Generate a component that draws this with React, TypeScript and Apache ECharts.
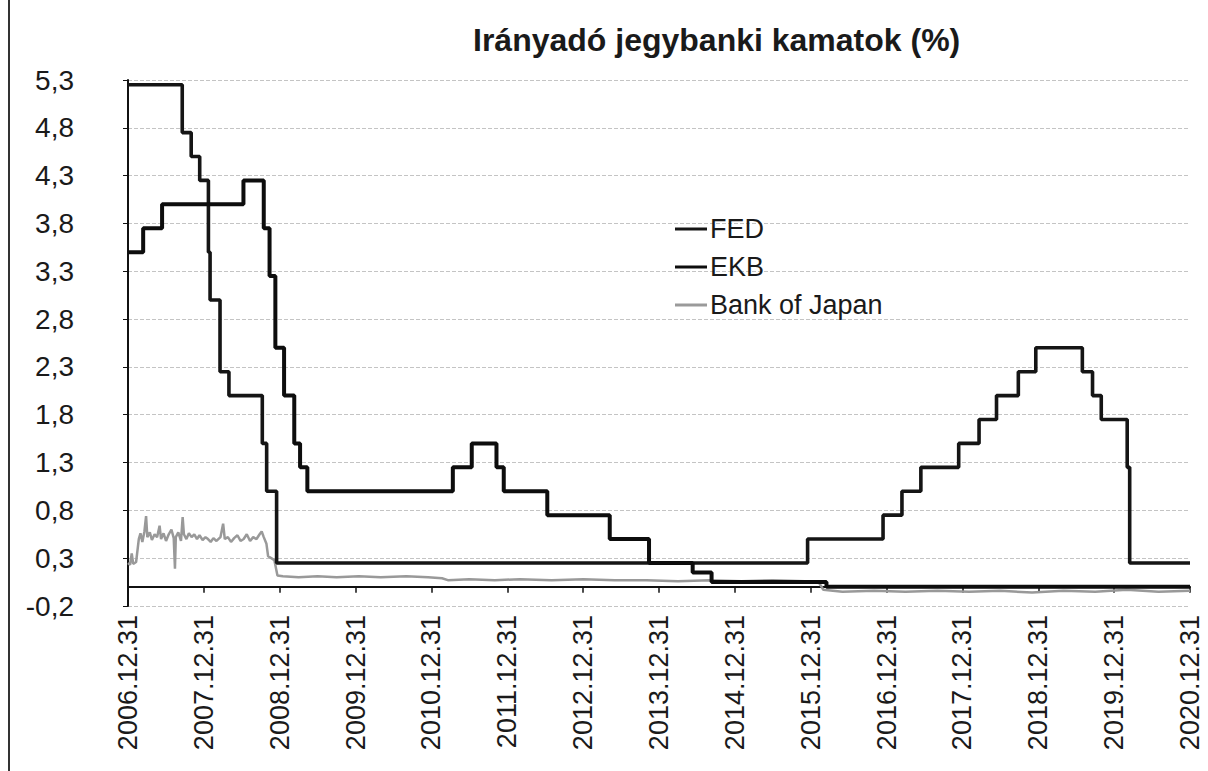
import React, { useEffect, useRef } from "react";
import * as echarts from "echarts";

const titleText = "Irányadó jegybanki kamatok (%)";

const xTickLabels = [
  "2006.12.31", "2007.12.31", "2008.12.31", "2009.12.31", "2010.12.31",
  "2011.12.31", "2012.12.31", "2013.12.31", "2014.12.31", "2015.12.31",
  "2016.12.31", "2017.12.31", "2018.12.31", "2019.12.31", "2020.12.31",
];
const yTickLabels = ["-0,2", "0,3", "0,8", "1,3", "1,8", "2,3", "2,8", "3,3", "3,8", "4,3", "4,8", "5,3"];

const fedDates = [
  "2006-12-31", "2007-09-18", "2007-10-31", "2007-12-11", "2008-01-22", "2008-01-30",
  "2008-03-18", "2008-04-30", "2008-10-08", "2008-10-29", "2008-12-16", "2015-12-16",
  "2016-12-14", "2017-03-15", "2017-06-14", "2017-12-13", "2018-03-21", "2018-06-13",
  "2018-09-26", "2018-12-19", "2019-07-31", "2019-09-18", "2019-10-30", "2020-03-03",
  "2020-03-15", "2020-12-31",
];
const fedValues = [
  5.25, 4.75, 4.5, 4.25, 3.5, 3.0,
  2.25, 2.0, 1.5, 1.0, 0.25, 0.5,
  0.75, 1.0, 1.25, 1.5, 1.75, 2.0,
  2.25, 2.5, 2.25, 2.0, 1.75, 1.25,
  0.25, 0.25,
];

const ekbDates = [
  "2006-12-31", "2007-03-14", "2007-06-13", "2008-07-09", "2008-10-15", "2008-11-12",
  "2008-12-10", "2009-01-21", "2009-03-11", "2009-04-08", "2009-05-13", "2011-04-13",
  "2011-07-13", "2011-11-09", "2011-12-14", "2012-07-11", "2013-05-08", "2013-11-13",
  "2014-06-11", "2014-09-10", "2016-03-16", "2020-12-31",
];
const ekbValues = [
  3.5, 3.75, 4.0, 4.25, 3.75, 3.25,
  2.5, 2.0, 1.5, 1.25, 1.0, 1.25,
  1.5, 1.25, 1.0, 0.75, 0.5, 0.25,
  0.15, 0.05, 0.0, 0.0,
];

const bojDates = [
  "2006-12-31", "2007-01-10", "2007-01-18", "2007-01-25", "2007-02-08", "2007-02-21",
  "2007-03-01", "2007-03-10", "2007-03-20", "2007-03-28", "2007-04-03", "2007-04-15",
  "2007-04-25", "2007-05-08", "2007-05-20", "2007-06-01", "2007-06-08", "2007-06-20",
  "2007-07-02", "2007-07-15", "2007-07-28", "2007-08-08", "2007-08-14", "2007-08-18",
  "2007-08-30", "2007-09-12", "2007-09-20", "2007-09-26", "2007-10-08", "2007-10-20",
  "2007-11-02", "2007-11-15", "2007-11-28", "2007-12-10", "2007-12-25", "2008-01-08",
  "2008-01-20", "2008-02-02", "2008-02-15", "2008-03-01", "2008-03-20", "2008-04-02",
  "2008-04-10", "2008-04-25", "2008-05-10", "2008-05-25", "2008-06-10", "2008-06-25",
  "2008-07-10", "2008-07-25", "2008-08-10", "2008-08-25", "2008-09-10", "2008-09-25",
  "2008-10-05", "2008-10-15", "2008-10-28", "2008-11-05", "2008-11-20", "2008-12-05",
  "2008-12-20", "2009-01-15", "2009-04-01", "2009-07-01", "2009-10-01", "2010-01-15",
  "2010-05-01", "2010-09-01", "2010-12-15", "2011-02-20", "2011-03-20", "2011-07-01",
  "2011-11-01", "2012-03-01", "2012-08-01", "2013-01-01", "2013-06-01", "2013-11-01",
  "2014-04-01", "2014-09-01", "2015-02-01", "2015-07-01", "2015-12-01", "2016-02-10",
  "2016-03-01", "2016-06-01", "2016-11-01", "2017-04-01", "2017-09-01", "2018-02-01",
  "2018-07-01", "2018-12-01", "2019-05-01", "2019-10-01", "2020-03-01", "2020-08-01",
  "2020-12-31",
];
const bojValues = [
  0.25, 0.23, 0.35, 0.24, 0.26, 0.5,
  0.56, 0.47, 0.58, 0.74, 0.52, 0.57,
  0.49, 0.55, 0.52, 0.64, 0.5, 0.56,
  0.48, 0.55, 0.6, 0.51, 0.19, 0.52,
  0.57, 0.48, 0.73, 0.55, 0.5, 0.56,
  0.52, 0.55, 0.5, 0.54, 0.49, 0.52,
  0.5, 0.47, 0.51, 0.48, 0.52, 0.66,
  0.5, 0.52, 0.47, 0.51, 0.54, 0.48,
  0.5, 0.55, 0.48, 0.52, 0.5, 0.55,
  0.58, 0.52, 0.45, 0.32, 0.3, 0.28,
  0.12, 0.11, 0.1, 0.11, 0.1, 0.11,
  0.1, 0.11, 0.1, 0.09, 0.07, 0.08,
  0.07, 0.08, 0.07, 0.08, 0.07, 0.07,
  0.06, 0.07, 0.06, 0.07, 0.06, 0.04,
  -0.03, -0.05, -0.04, -0.05, -0.04, -0.05,
  -0.04, -0.06, -0.04, -0.05, -0.03, -0.05,
  -0.04,
];

// date string -> fractional year; end of the given day (so "2006-12-31" -> 2007.0)
function toX(d: string): number {
  const [y, m, day] = d.split("-").map(Number);
  const t = Date.UTC(y, m - 1, day) + 86400000;
  const yy = new Date(t).getUTCFullYear();
  const s = Date.UTC(yy, 0, 1);
  const e = Date.UTC(yy + 1, 0, 1);
  return yy + (t - s) / (e - s);
}

const FONT = "'Liberation Sans', Arial, Helvetica, sans-serif";

export default function App() {
  const ref = useRef<HTMLDivElement>(null);
  useEffect(() => {
    document.body.style.margin = "0";
    if (!ref.current) return;
    const chart = echarts.init(ref.current, null, { renderer: "svg" });
    const fed = fedDates.map((d, i) => [toX(d), fedValues[i]]);
    const ekb = ekbDates.map((d, i) => [toX(d), ekbValues[i]]);
    const boj = bojDates.map((d, i) => [toX(d), bojValues[i]]);
    chart.setOption({
      animation: false,
      backgroundColor: "#ffffff",
      title: {
        text: titleText,
        left: 468,
        top: 19,
        textStyle: { fontFamily: FONT, fontSize: 32, fontWeight: "bold", color: "#1a1a1a" },
      },
      legend: {
        orient: "vertical",
        left: 670,
        top: 210,
        itemWidth: 32,
        itemHeight: 3,
        itemGap: 10,
        textStyle: { fontFamily: FONT, fontSize: 27, color: "#1a1a1a", lineHeight: 28, padding: [0, 0, 0, -2] },
        data: [
          { name: "FED", icon: "rect", itemStyle: { color: "#151515" } },
          { name: "EKB", icon: "rect", itemStyle: { color: "#0d0d0d" } },
          { name: "Bank of Japan", icon: "rect", itemStyle: { color: "#9a9a9a" } },
        ],
      },
      graphic: [
        {
          type: "line",
          shape: { x1: 9, y1: 0, x2: 9, y2: 771 },
          style: { stroke: "#333", lineWidth: 2 },
        },
      ],
      grid: { left: 128, right: 18, top: 80, bottom: 165, containLabel: false },
      xAxis: [
        {
          type: "value",
          min: 2007,
          max: 2021,
          interval: 1,
          position: "bottom",
          axisLine: { show: false, onZero: false },
          axisTick: { show: false },
          splitLine: { show: false },
          axisLabel: {
            rotate: 90,
            margin: 9,
            fontFamily: FONT,
            fontSize: 27,
            color: "#1a1a1a",
            formatter: (v: number) => xTickLabels[Math.round(v - 2007)] ?? "",
          },
        },
        {
          type: "value",
          min: 2007,
          max: 2021,
          interval: 1,
          position: "bottom",
          axisLine: { show: true, onZero: true, lineStyle: { color: "#111", width: 2 } },
          axisTick: { show: true, length: 6, lineStyle: { color: "#111", width: 1.5 } },
          axisLabel: { show: false },
          splitLine: { show: false },
        },
      ],
      yAxis: {
        type: "value",
        min: -0.2,
        max: 5.3,
        interval: 0.5,
        axisLine: { show: true, lineStyle: { color: "#111", width: 2 } },
        axisTick: { show: true, length: 5, lineStyle: { color: "#111" } },
        splitLine: { show: true, lineStyle: { color: "#c4c4c4", type: "dashed", width: 1 } },
        axisLabel: {
          margin: 54,
          fontFamily: FONT,
          fontSize: 28,
          color: "#1a1a1a",
          formatter: (v: number) => yTickLabels[Math.round((v + 0.2) / 0.5)] ?? "",
        },
      },
      series: [
        {
          name: "Bank of Japan",
          type: "line",
          data: boj,
          showSymbol: false,
          symbol: "none",
          lineStyle: { color: "#999999", width: 2.5 },
          itemStyle: { color: "#999999" },
          z: 2,
        },
        {
          name: "FED",
          type: "line",
          step: "end",
          data: fed,
          showSymbol: false,
          symbol: "none",
          lineStyle: { color: "#151515", width: 3.6 },
          itemStyle: { color: "#151515" },
          z: 3,
        },
        {
          name: "EKB",
          type: "line",
          step: "end",
          data: ekb,
          showSymbol: false,
          symbol: "none",
          lineStyle: { color: "#0d0d0d", width: 4 },
          itemStyle: { color: "#0d0d0d" },
          z: 4,
        },
      ],
    });
    return () => chart.dispose();
  }, []);
  return <div ref={ref} style={{ width: 1208, height: 771 }} />;
}
